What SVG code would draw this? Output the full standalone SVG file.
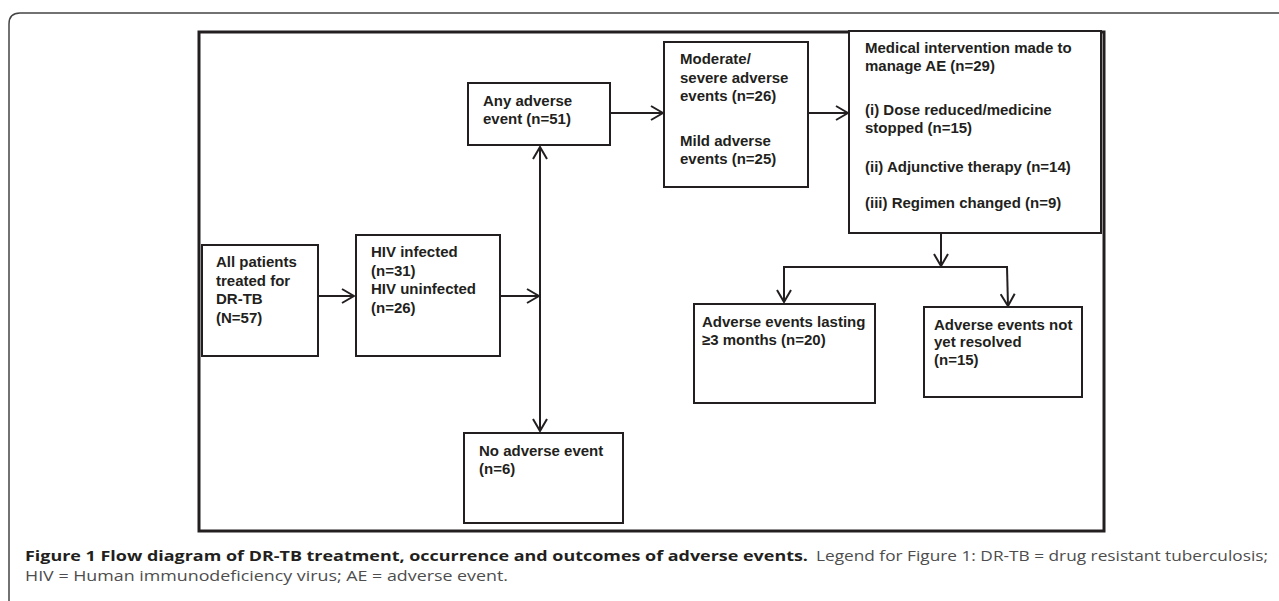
<svg xmlns="http://www.w3.org/2000/svg" width="1279" height="601" viewBox="0 0 1279 601">
<style>
.box{fill:#fff;stroke:#231f20;stroke-width:2}
.t{font-family:"Liberation Sans",Arial,sans-serif;font-weight:bold;font-size:15px;fill:#231f20}
.c{fill:none;stroke:#231f20;stroke-width:2}
.cb{font-family:"Open Sans","Liberation Sans",sans-serif;font-weight:bold;font-size:14px;fill:#231f20}
.cn{font-family:"Open Sans","Liberation Sans",sans-serif;font-size:14px;fill:#4d4d4d}
</style>
<defs>
<marker id="ah" viewBox="0 0 14 16" markerWidth="14" markerHeight="16" refX="13" refY="8" orient="auto-start-reverse" markerUnits="userSpaceOnUse">
<path d="M1,1 L13,8 L1,15" fill="none" stroke="#231f20" stroke-width="2"/>
</marker>
</defs>
<rect width="1279" height="601" fill="#fff"/>
<path d="M9,601 L9,24 Q9,13 20,13 L1279,13" fill="none" stroke="#444" stroke-width="1.5"/>
<rect x="199" y="32" width="905" height="499" fill="none" stroke="#231f20" stroke-width="3"/>

<g id="connectors">
<line class="c" x1="318" y1="296" x2="354" y2="296" marker-end="url(#ah)"/>
<line class="c" x1="500" y1="296" x2="539" y2="296" marker-end="url(#ah)"/>
<line class="c" x1="540" y1="147" x2="540" y2="431" marker-start="url(#ah)" marker-end="url(#ah)"/>
<line class="c" x1="610" y1="113" x2="663" y2="113" marker-end="url(#ah)"/>
<line class="c" x1="808" y1="113" x2="848" y2="113" marker-end="url(#ah)"/>
<line class="c" x1="941" y1="233" x2="941" y2="266" marker-end="url(#ah)"/>
<line class="c" x1="783" y1="267" x2="1008" y2="267"/>
<line class="c" x1="784" y1="267" x2="784" y2="302" marker-end="url(#ah)"/>
<line class="c" x1="1007" y1="267" x2="1008" y2="306" marker-end="url(#ah)"/>
</g>

<g id="all-patients">
<rect class="box" x="202" y="245" width="116" height="111"/>
<text class="t" x="216" y="267">All patients</text>
<text class="t" x="216" y="286">treated for</text>
<text class="t" x="216" y="304">DR-TB</text>
<text class="t" x="216" y="323">(N=57)</text>
</g>

<g id="hiv">
<rect class="box" x="356" y="235" width="144" height="121"/>
<text class="t" x="371" y="257">HIV infected</text>
<text class="t" x="371" y="276">(n=31)</text>
<text class="t" x="371" y="294">HIV uninfected</text>
<text class="t" x="371" y="313">(n=26)</text>
</g>

<g id="any-ae">
<rect class="box" x="468" y="83" width="142" height="62"/>
<text class="t" x="483" y="106">Any adverse</text>
<text class="t" x="483" y="124">event (n=51)</text>
</g>

<g id="no-ae">
<rect class="box" x="464" y="433" width="159" height="90"/>
<text class="t" x="479" y="456">No adverse event</text>
<text class="t" x="479" y="474">(n=6)</text>
</g>

<g id="severity">
<rect class="box" x="664" y="42" width="144" height="145"/>
<text class="t" x="680" y="64">Moderate/</text>
<text class="t" x="680" y="83">severe adverse</text>
<text class="t" x="680" y="101">events (n=26)</text>
<text class="t" x="680" y="146">Mild adverse</text>
<text class="t" x="680" y="164">events (n=25)</text>
</g>

<g id="intervention">
<rect class="box" x="849" y="31" width="252" height="202"/>
<text class="t" x="865" y="53">Medical intervention made to</text>
<text class="t" x="865" y="71">manage AE (n=29)</text>
<text class="t" x="865" y="115">(i) Dose reduced/medicine</text>
<text class="t" x="865" y="133">stopped (n=15)</text>
<text class="t" x="865" y="172">(ii) Adjunctive therapy (n=14)</text>
<text class="t" x="865" y="208">(iii) Regimen changed (n=9)</text>
</g>

<g id="lasting">
<rect class="box" x="694" y="304" width="181" height="99"/>
<text class="t" x="702" y="327">Adverse events lasting</text>
<text class="t" x="702" y="345">≥3 months (n=20)</text>
</g>

<g id="unresolved">
<rect class="box" x="924" y="307" width="158" height="90"/>
<text class="t" x="934" y="330">Adverse events not</text>
<text class="t" x="934" y="347">yet resolved</text>
<text class="t" x="934" y="365">(n=15)</text>
</g>

<g id="caption">
<text class="cb" x="25" y="561" textLength="783" lengthAdjust="spacingAndGlyphs">Figure 1 Flow diagram of DR-TB treatment, occurrence and outcomes of adverse events.</text>
<text class="cn" x="816" y="561" textLength="452" lengthAdjust="spacingAndGlyphs">Legend for Figure 1: DR-TB = drug resistant tuberculosis;</text>
<text class="cn" x="25" y="581" textLength="483" lengthAdjust="spacingAndGlyphs">HIV = Human immunodeficiency virus; AE = adverse event.</text>
</g>
</svg>
